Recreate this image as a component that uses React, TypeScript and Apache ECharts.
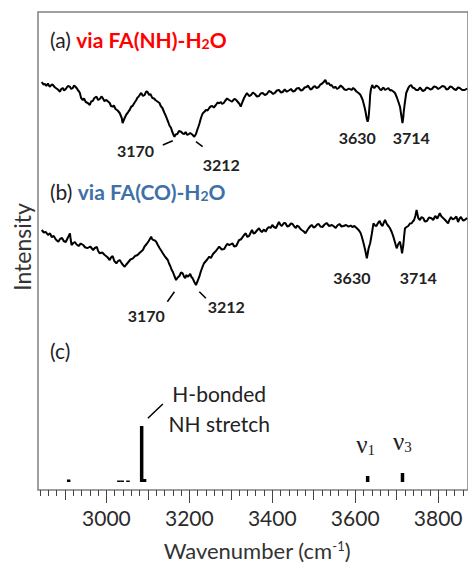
import React, { useEffect, useRef } from "react";
import * as echarts from "echarts";

// ---- axis range (wavenumber, cm-1) ----
const X_MIN = 2835;
const X_MAX = 3872;
const Y_MIN = 0;
const Y_MAX = 478;

// ---- tick values ----
const majorTicks = [3000, 3200, 3400, 3600, 3800];
const mediumTicks = [2900, 3100, 3300, 3500, 3700];
const minorTicks: number[] = [];
for (let v = 2840; v <= 3860; v += 20) if (v % 100 !== 0) minorTicks.push(v);

// ---- trace (a) via FA(NH)-H2O : [wavenumber, intensity] ----
const traceA = [
  [2844, 408], [2848, 405.5], [2852, 406], [2855, 404], [2859, 406.5], [2862, 404], [2864, 403.3], [2868, 405.5], [2871, 405], [2875, 403],
  [2878, 402], [2883, 400.5], [2888, 398.3], [2891, 401], [2895, 402], [2898, 399.5], [2902, 401], [2907, 404], [2912, 403.3], [2915, 401],
  [2919, 402], [2922, 404.5], [2926, 403], [2929, 401.5], [2931, 400], [2934, 398.5], [2936, 397], [2939, 392], [2943, 390], [2946, 391.5],
  [2950, 388], [2955, 387], [2960, 385], [2963, 388.5], [2967, 389], [2971, 392], [2976, 393.3], [2980, 390], [2984, 391], [2988, 393.5],
  [2991, 392], [2995, 389], [3000, 390], [3004, 388.5], [3008, 387], [3011, 384], [3015, 383.3], [3018, 384.5], [3022, 381], [3027, 379.5],
  [3032, 377], [3035, 374], [3037, 372], [3039, 367], [3042, 370], [3044, 372], [3048, 375.5], [3051, 377], [3054, 379], [3056, 380],
  [3060, 383.5], [3063, 384], [3068, 387.5], [3072, 390], [3075, 392.5], [3077, 393], [3081, 395.5], [3084, 397], [3088, 394], [3092, 395],
  [3096, 398.5], [3099, 398.3], [3103, 395], [3106, 396], [3109, 393.5], [3111, 392], [3115, 391.5], [3118, 390], [3123, 388.5], [3128, 387],
  [3131, 384], [3135, 382], [3140, 377], [3144, 373.3], [3147, 370], [3149, 368], [3152, 364.5], [3156, 362], [3158, 359], [3159, 358],
  [3162, 355], [3164, 353.3], [3167, 355.5], [3171, 356], [3175, 359], [3180, 358.3], [3184, 356.5], [3188, 356], [3191, 358], [3195, 355],
  [3199, 356], [3202, 357], [3207, 355.5], [3212, 353.3], [3216, 356], [3219, 360], [3222, 363.5], [3224, 366], [3226, 369], [3228, 372],
  [3231, 375.5], [3233, 377], [3237, 378.5], [3240, 380], [3244, 379.5], [3248, 382], [3251, 383.5], [3255, 384], [3259, 382.5], [3264, 385],
  [3268, 387.5], [3272, 386.7], [3276, 388], [3279, 386], [3283, 387], [3286, 389], [3291, 391.5], [3296, 390], [3300, 389], [3303, 388.3],
  [3307, 390.5], [3310, 391], [3314, 389.5], [3317, 388], [3321, 386], [3324, 383.3], [3328, 388], [3332, 392], [3336, 395], [3339, 397],
  [3344, 394], [3349, 395], [3353, 397.5], [3358, 396], [3363, 393.5], [3368, 394], [3372, 396.5], [3377, 397], [3382, 395], [3387, 396],
  [3392, 399], [3397, 398], [3402, 396], [3406, 397], [3411, 399.5], [3416, 400], [3421, 397.5], [3425, 398], [3430, 400.5], [3435, 398.3],
  [3440, 399.5], [3445, 401], [3450, 398.5], [3454, 399], [3459, 401.5], [3464, 402], [3469, 399.5], [3473, 400], [3478, 402.5], [3483, 403],
  [3486, 404.5], [3488, 403.3], [3492, 400.5], [3495, 401], [3499, 403], [3502, 404], [3507, 402], [3512, 403], [3516, 405.5], [3519, 406],
  [3524, 408], [3528, 410], [3532, 406], [3536, 407], [3540, 404.5], [3543, 405], [3548, 402], [3552, 403.3], [3556, 401], [3560, 402],
  [3565, 404.5], [3569, 403], [3574, 400.5], [3579, 400], [3585, 401.5], [3591, 400], [3595, 402], [3598, 401], [3603, 398.5], [3608, 397],
  [3612, 395.5], [3615, 393], [3618, 390], [3620, 387], [3623, 382], [3625, 378], [3628, 371], [3630, 368.3], [3632, 372], [3633, 376],
  [3635, 387], [3636, 395], [3638, 401], [3641, 405], [3643, 403], [3646, 402], [3651, 404.5], [3656, 403], [3660, 400.5], [3663, 400],
  [3668, 402.5], [3672, 400], [3676, 401], [3680, 402], [3684, 399.5], [3687, 400], [3692, 398.5], [3696, 397], [3699, 394], [3701, 392],
  [3705, 387], [3708, 383.3], [3711, 375], [3714, 367], [3716, 373], [3717, 378], [3719, 385], [3721, 391], [3723, 397], [3726, 400],
  [3728, 402], [3731, 404], [3735, 405], [3738, 402.5], [3742, 402], [3747, 400], [3752, 400], [3756, 402.5], [3759, 401], [3763, 399],
  [3768, 400], [3772, 402.5], [3776, 402], [3781, 400.5], [3785, 401], [3790, 403.5], [3795, 403], [3800, 401], [3804, 402], [3810, 404],
  [3816, 403.3], [3820, 400.5], [3824, 401], [3829, 403.5], [3833, 403], [3838, 401], [3843, 400], [3848, 402.5], [3852, 402], [3858, 400],
  [3864, 400], [3870, 401.5],
];

// ---- trace (b) via FA(CO)-H2O : [wavenumber, intensity] ----
const traceB = [
  [2844, 260], [2849, 257.5], [2854, 258], [2859, 255], [2864, 256.7], [2868, 253], [2873, 254], [2878, 250.5], [2884, 248.3], [2888, 251],
  [2893, 252], [2897, 249], [2902, 248], [2906, 251.5], [2909, 254], [2912, 256.7], [2914, 250], [2916, 245], [2920, 247], [2924, 248],
  [2928, 245.5], [2933, 244], [2938, 246.5], [2944, 245], [2949, 242.5], [2955, 242], [2961, 243.5], [2968, 240], [2972, 242], [2977, 243],
  [2980, 239], [2984, 236.7], [2990, 237.5], [2996, 235], [3002, 233], [3008, 230], [3011, 232.5], [3015, 234], [3019, 229], [3024, 226.7],
  [3028, 229], [3032, 230], [3038, 226], [3044, 223.3], [3048, 225.5], [3053, 228], [3058, 230.5], [3064, 231.7], [3069, 234], [3075, 235],
  [3081, 237.5], [3088, 240], [3092, 243.5], [3097, 246], [3102, 249], [3108, 253.3], [3110, 251], [3113, 250], [3117, 249.5], [3120, 248.3],
  [3124, 245], [3128, 242], [3132, 239.5], [3136, 236.7], [3142, 233], [3148, 230], [3151, 226.5], [3154, 224], [3157, 220.5], [3160, 218.3],
  [3164, 214], [3168, 210], [3172, 212.5], [3176, 214], [3180, 217.5], [3184, 216.7], [3187, 213.5], [3190, 212], [3193, 215], [3196, 213.3],
  [3199, 214.5], [3202, 216], [3205, 213], [3208, 211.7], [3212, 208], [3216, 205], [3220, 209], [3224, 213.3], [3228, 219], [3232, 223.3],
  [3235, 226.5], [3238, 228], [3243, 230.5], [3248, 233.3], [3252, 232], [3257, 236], [3264, 239], [3272, 243.3], [3278, 240.5], [3284, 241],
  [3288, 244], [3291, 246], [3297, 245], [3304, 246.7], [3308, 243.5], [3313, 244], [3317, 247.5], [3320, 250], [3324, 250.5], [3327, 252],
  [3331, 254.5], [3336, 256.7], [3340, 253], [3344, 254], [3348, 257.5], [3351, 260], [3355, 256.5], [3358, 257], [3363, 259.5], [3368, 261.7],
  [3372, 259], [3375, 258], [3380, 260.5], [3384, 258.3], [3388, 261.5], [3392, 263], [3396, 262], [3400, 265], [3404, 263], [3409, 262],
  [3413, 265.5], [3416, 268], [3420, 265], [3423, 264], [3428, 267], [3432, 266.7], [3436, 263.5], [3440, 264], [3445, 266.5], [3449, 266],
  [3453, 263.5], [3457, 262], [3460, 264.5], [3464, 263.3], [3468, 261], [3471, 260], [3476, 258.5], [3480, 256.7], [3484, 259.5], [3488, 262],
  [3492, 264], [3495, 265], [3500, 262.5], [3504, 263.3], [3508, 265.5], [3512, 266], [3516, 263.5], [3521, 263], [3526, 265.5], [3531, 267],
  [3537, 264], [3544, 265], [3549, 263.5], [3553, 262], [3557, 264.5], [3562, 266], [3567, 263.5], [3572, 264], [3578, 265], [3584, 263.3],
  [3589, 264.5], [3593, 263], [3598, 264], [3604, 261.7], [3607, 260.5], [3610, 259], [3613, 257], [3616, 253.3], [3620, 247], [3624, 240],
  [3626, 236], [3628, 231.7], [3630, 236], [3632, 241], [3634, 244], [3636, 246.7], [3640, 256], [3644, 266.7], [3648, 264.5], [3651, 264],
  [3655, 267], [3659, 269], [3662, 266], [3666, 264], [3669, 267.5], [3672, 270], [3675, 267], [3678, 265], [3681, 263.5], [3684, 261.7],
  [3688, 258], [3692, 253.3], [3696, 247.5], [3700, 241.7], [3704, 246], [3708, 248.3], [3711, 242], [3713, 236.7], [3716, 245], [3718, 254],
  [3720, 261.7], [3724, 263], [3728, 264], [3732, 266.5], [3736, 266.7], [3739, 268.5], [3742, 270], [3745, 274], [3748, 280], [3750, 276],
  [3752, 272], [3756, 270], [3760, 273], [3764, 272], [3768, 268.5], [3773, 269], [3778, 272.5], [3784, 271.7], [3788, 270], [3793, 274],
  [3798, 271.5], [3804, 276.7], [3808, 273.5], [3812, 272], [3818, 269.5], [3824, 266.7], [3827, 270], [3831, 273], [3835, 270.5], [3840, 271.7],
  [3844, 273.5], [3848, 268], [3851, 271], [3855, 273], [3860, 269.5], [3864, 270], [3870, 272],
];

// ---- (c) calculated stick spectrum ----
const stickBase = 8;
const stickWn = [2909, 3030, 3038, 3052, 3085, 3092, 3630, 3714];
const stickHeight = [2.5, 1.5, 1.5, 1.5, 56, 3, 6, 9];

// ---- annotations ----
const peakLabels = ["3170", "3212", "3630", "3714", "3170", "3212", "3630", "3714"];
const peakLabelWn = [3070, 3277, 3605, 3735, 3096, 3289, 3592, 3752];
const peakLabelInt = [340, 326, 353, 353, 175, 183.5, 213, 213];
const leaderLines = [
  [3136, 345, 3160, 349.3],
  [3216, 348.3, 3232, 343.3],
  [3147, 188.3, 3164, 198.3],
  [3224, 198.3, 3240, 191.7],
  [3100, 71.7, 3136, 86],
];
const stickNotes = ["{a|H-bonded}", "{a|NH stretch}", "{n|ν}{s|1}", "{n|ν}{s|3}"];
const stickNoteWn = [3272, 3272, 3625, 3714];
const stickNoteInt = [97, 67, 47, 50];

const FONT = "Lato, 'Open Sans', sans-serif";
const SERIF = "'Liberation Serif', 'DejaVu Serif', serif";

export default function App() {
  const ref = useRef<HTMLDivElement>(null);
  useEffect(() => {
    if (!ref.current) return;
    const chart = echarts.init(ref.current, null, { renderer: "svg" });
    const baseAxis = {
      type: "value",
      min: X_MIN,
      max: X_MAX,
      position: "bottom",
      gridIndex: 0,
      axisLine: { show: false },
      splitLine: { show: false },
      axisLabel: { show: false },
    };
    const panelRich = (color: string) => ({
      p: { fill: "#1e1e28", fontSize: 21, fontFamily: FONT, lineHeight: 26, verticalAlign: "bottom" },
      r: { fill: color, fontSize: 21, fontWeight: "bold", fontFamily: FONT, lineHeight: 26, verticalAlign: "bottom" },
      rs: { fill: color, fontSize: 14, fontWeight: "bold", fontFamily: FONT, lineHeight: 9, verticalAlign: "bottom" },
    });
    const option: any = {
      animation: false,
      backgroundColor: "#ffffff",
      grid: {
        left: 38,
        right: -2,
        top: 12,
        bottom: 73,
        show: true,
        borderColor: "#808080",
        borderWidth: 1.5,
      },
      xAxis: [
        {
          ...baseAxis,
          axisTick: { show: true, customValues: minorTicks, length: 6, lineStyle: { color: "#444", width: 1 } },
        },
        {
          ...baseAxis,
          axisTick: { show: true, customValues: mediumTicks, length: 10, lineStyle: { color: "#444", width: 1 } },
        },
        {
          ...baseAxis,
          axisTick: { show: true, customValues: majorTicks, length: 13, lineStyle: { color: "#444", width: 1 } },
          axisLabel: {
            show: true,
            customValues: majorTicks,
            margin: 17,
            fontSize: 21,
            fontFamily: FONT,
            color: "#2a2a2a",
            formatter: (v: number) => String(v),
          },
        },
      ],
      yAxis: { type: "value", min: Y_MIN, max: Y_MAX, show: false },
      series: [
        {
          type: "line",
          data: traceA,
          showSymbol: false,
          lineStyle: { color: "#000", width: 2 },
          silent: true,
        },
        {
          type: "line",
          data: traceB,
          showSymbol: false,
          lineStyle: { color: "#000", width: 2 },
          silent: true,
        },
        {
          type: "custom",
          data: stickWn.map((w, i) => [w, stickHeight[i]]),
          encode: { x: 0, y: 1 },
          renderItem: (params: any, api: any) => {
            const p0 = api.coord([api.value(0), stickBase]);
            const p1 = api.coord([api.value(0), stickBase + api.value(1)]);
            return {
              type: "line",
              shape: { x1: p0[0], y1: p0[1], x2: p1[0], y2: p1[1] },
              style: { stroke: "#000", lineWidth: 3.5 },
            };
          },
          silent: true,
        },
        {
          type: "custom",
          data: leaderLines,
          encode: { x: [0, 2], y: [1, 3] },
          renderItem: (params: any, api: any) => {
            const p0 = api.coord([api.value(0), api.value(1)]);
            const p1 = api.coord([api.value(2), api.value(3)]);
            return {
              type: "line",
              shape: { x1: p0[0], y1: p0[1], x2: p1[0], y2: p1[1] },
              style: { stroke: "#000", lineWidth: 1.5 },
            };
          },
          silent: true,
        },
        {
          type: "custom",
          data: peakLabelWn.map((w, i) => [w, peakLabelInt[i], i]),
          encode: { x: 0, y: 1 },
          renderItem: (params: any, api: any) => {
            const p = api.coord([api.value(0), api.value(1)]);
            return {
              type: "text",
              x: p[0],
              y: p[1],
              style: {
                text: peakLabels[api.value(2)],
                fill: "#222",
                fontSize: 16,
                fontWeight: "bold",
                fontFamily: FONT,
                align: "center",
                verticalAlign: "middle",
                textAlign: "center",
                textVerticalAlign: "middle",
              },
            };
          },
          silent: true,
        },
        {
          type: "custom",
          data: stickNoteWn.map((w, i) => [w, stickNoteInt[i], i]),
          encode: { x: 0, y: 1 },
          renderItem: (params: any, api: any) => {
            const p = api.coord([api.value(0), api.value(1)]);
            return {
              type: "text",
              x: p[0],
              y: p[1],
              style: {
                text: stickNotes[api.value(2)],
                align: "center",
                verticalAlign: "middle",
                textAlign: "center",
                textVerticalAlign: "middle",
                rich: {
                  a: { fill: "#222", fontSize: 21, fontFamily: FONT, lineHeight: 26 },
                  n: { fill: "#222", fontSize: 25, fontFamily: SERIF, lineHeight: 28, verticalAlign: "bottom" },
                  s: { fill: "#222", fontSize: 15, fontFamily: SERIF, lineHeight: 12, verticalAlign: "bottom" },
                },
              },
            };
          },
          silent: true,
        },
      ],
      graphic: [
        {
          type: "text",
          x: 50,
          y: 37,
          silent: true,
          style: {
            text: "{p|(a) }{r|via FA(NH)-H}{rs|2}{r|O}",
            verticalAlign: "middle",
            rich: panelRich("#ff0000"),
          },
        },
        {
          type: "text",
          x: 50,
          y: 189,
          silent: true,
          style: {
            text: "{p|(b) }{r|via FA(CO)-H}{rs|2}{r|O}",
            verticalAlign: "middle",
            rich: panelRich("#4070a8"),
          },
        },
        {
          type: "text",
          x: 50,
          y: 350,
          silent: true,
          style: {
            text: "(c)",
            fill: "#1e1e28",
            fontSize: 21,
            fontFamily: FONT,
            verticalAlign: "middle",
          },
        },
        {
          type: "text",
          x: 22,
          y: 247,
          rotation: Math.PI / 2,
          silent: true,
          style: {
            text: "Intensity",
            fill: "#333",
            fontSize: 23,
            fontFamily: FONT,
            align: "center",
            verticalAlign: "middle",
          },
        },
        {
          type: "text",
          x: 257,
          y: 550,
          silent: true,
          style: {
            text: "{a|Wavenumber (cm}{s|-1}{a|)}",
            align: "center",
            verticalAlign: "middle",
            rich: {
              a: { fill: "#333", fontSize: 22, fontFamily: FONT, lineHeight: 22, verticalAlign: "bottom" },
              s: { fill: "#333", fontSize: 13, fontFamily: FONT, lineHeight: 12, verticalAlign: "top" },
            },
          },
        },
      ],
    };
    chart.setOption(option);
    return () => chart.dispose();
  }, []);
  return (
    <div
      ref={ref}
      style={{ position: "fixed", left: 0, top: 0, width: 468, height: 563, background: "#fff" }}
    />
  );
}
